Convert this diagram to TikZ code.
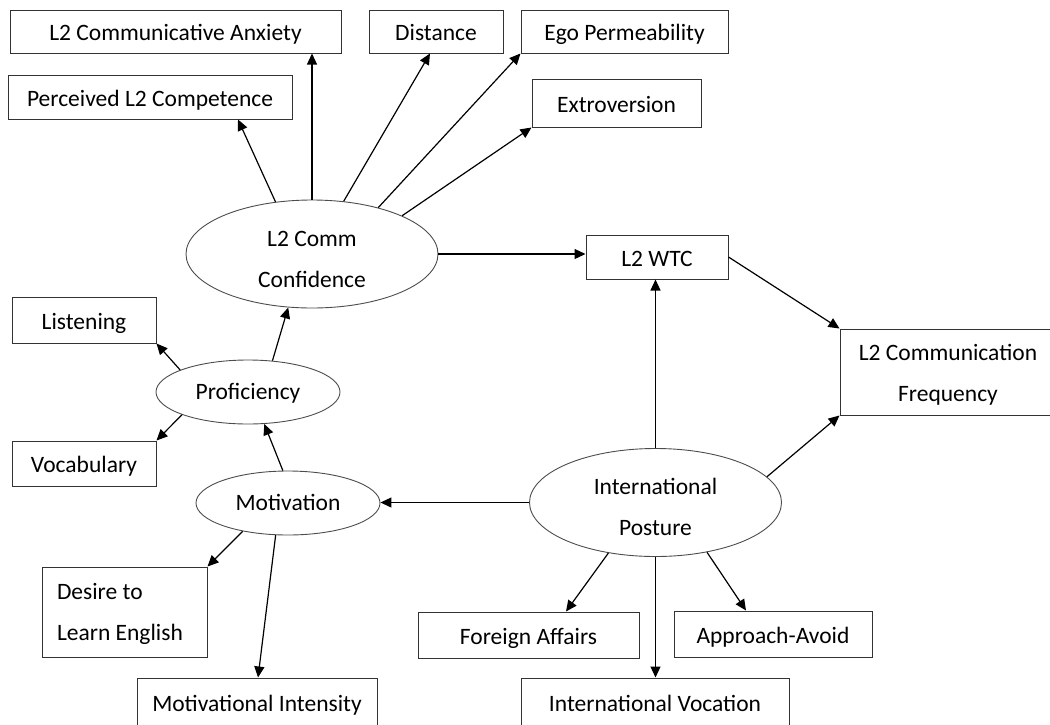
\documentclass[tikz,border=0pt]{standalone}
\usepackage{fontspec}
\setmainfont{Carlito}
\usetikzlibrary{shapes.geometric,arrows.meta}
\begin{document}
\begin{tikzpicture}[x=1pt,y=-1pt,
  txt/.style={font=\fontsize{23.5}{41}\selectfont, text=black},
  box/.style={txt, draw=black!80, line width=1pt, inner sep=0pt, text height=23pt, text depth=5pt},
  mbox/.style={txt, draw=black!80, line width=1pt, inner sep=0pt},
  ell/.style={txt, ellipse, draw=black!70, line width=0.9pt, inner sep=0pt, align=center},
  sell/.style={ell, text height=21pt, text depth=7pt},
  arr/.style={-{Triangle[length=11pt,width=10pt]}, line width=1.2pt, draw=black}]
\useasboundingbox (0,0) rectangle (1050,724);
% boxes
\node[box, minimum width=331pt, minimum height=43pt] (anx) at (175.5,31.5) {L2 Communicative Anxiety};
\node[box, minimum width=284pt, minimum height=44pt] (perc) at (150,97) {Perceived L2 Competence};
\node[box, minimum width=134pt, minimum height=43pt] (dist) at (436,31.5) {Distance};
\node[box, minimum width=207pt, minimum height=43pt] (ego) at (624.5,31.5) {Ego Permeability};
\node[box, minimum width=169pt, minimum height=48pt] (ext) at (616.5,103) {Extroversion};
\node[box, minimum width=142pt, minimum height=44pt] (wtc) at (657,257) {L2 WTC};
\node[mbox, minimum width=216pt, minimum height=86pt, align=center] (freq) at (948,372) {\rule{0pt}{21pt}L2 Communication\\Frequency};
\node[box, minimum width=144pt, minimum height=46pt] (lis) at (84,320) {Listening};
\node[box, minimum width=144pt, minimum height=45pt] (vocab) at (84,463.5) {Vocabulary};
\node[mbox, minimum width=165pt, minimum height=90pt, inner xsep=15pt, text width=135pt, align=flush left] (des) at (124.5,612) {\rule{0pt}{20pt}Desire to\\Learn English};
\node[box, minimum width=240pt, minimum height=48pt] (mint) at (257,702) {Motivational Intensity};
\node[box, minimum width=221pt, minimum height=46pt] (fa) at (528.5,635) {Foreign Affairs};
\node[box, minimum width=198pt, minimum height=46pt] (aa) at (773,634) {Approach-Avoid};
\node[box, minimum width=268pt, minimum height=49pt] (iv) at (655,702.5) {International Vocation};
% ellipses
\node[ell, minimum width=252pt, minimum height=108pt] (conf) at (312,254) {\rule{0pt}{26pt}L2 Comm\\Confidence};
\node[sell, minimum width=184pt, minimum height=64pt] (prof) at (248,392) {Proficiency};
\node[sell, minimum width=184pt, minimum height=64pt] (mot) at (288,503) {Motivation};
\node[ell, minimum width=252pt, minimum height=108pt] (post) at (655.5,502.5) {\rule{0pt}{26pt}International\\Posture};
% connectors
\draw[arr] (conf.north) -- (conf.north |- anx.south);
\draw[arr] (conf.125) -- ([xshift=88pt]perc.south);
\draw[arr] (conf.59) -- ([xshift=-6pt]dist.south);
\draw[arr] (conf.35) -- (ego.south west);
\draw[arr] (conf.23) -- (ext.south west);
\draw[arr] (conf.east) -- (conf.east -| wtc.west);
\draw[arr] (wtc.east) -- (freq.north west);
\draw[arr] (post.13) -- (freq.south west);
\draw[arr] (post.north) -- (post.north |- wtc.south);
\draw[arr] (post.west) -- (post.west -| mot.east);
\draw[arr] (post.227) -- ([xshift=37.5pt]fa.north);
\draw[arr] (post.south) -- (post.south |- iv.north);
\draw[arr] (post.316) -- ([xshift=-27pt]aa.north);
\draw[arr] (prof.52) -- (conf.246);
\draw[arr] (prof.162) -- (lis.south east);
\draw[arr] (prof.199) -- (vocab.north east);
\draw[arr] (mot.99) -- (prof.297);
\draw[arr] (mot.212) -- (des.north east);
\draw[arr] (mot.249) -- ([xshift=1pt]mint.north);
\end{tikzpicture}
\end{document}
